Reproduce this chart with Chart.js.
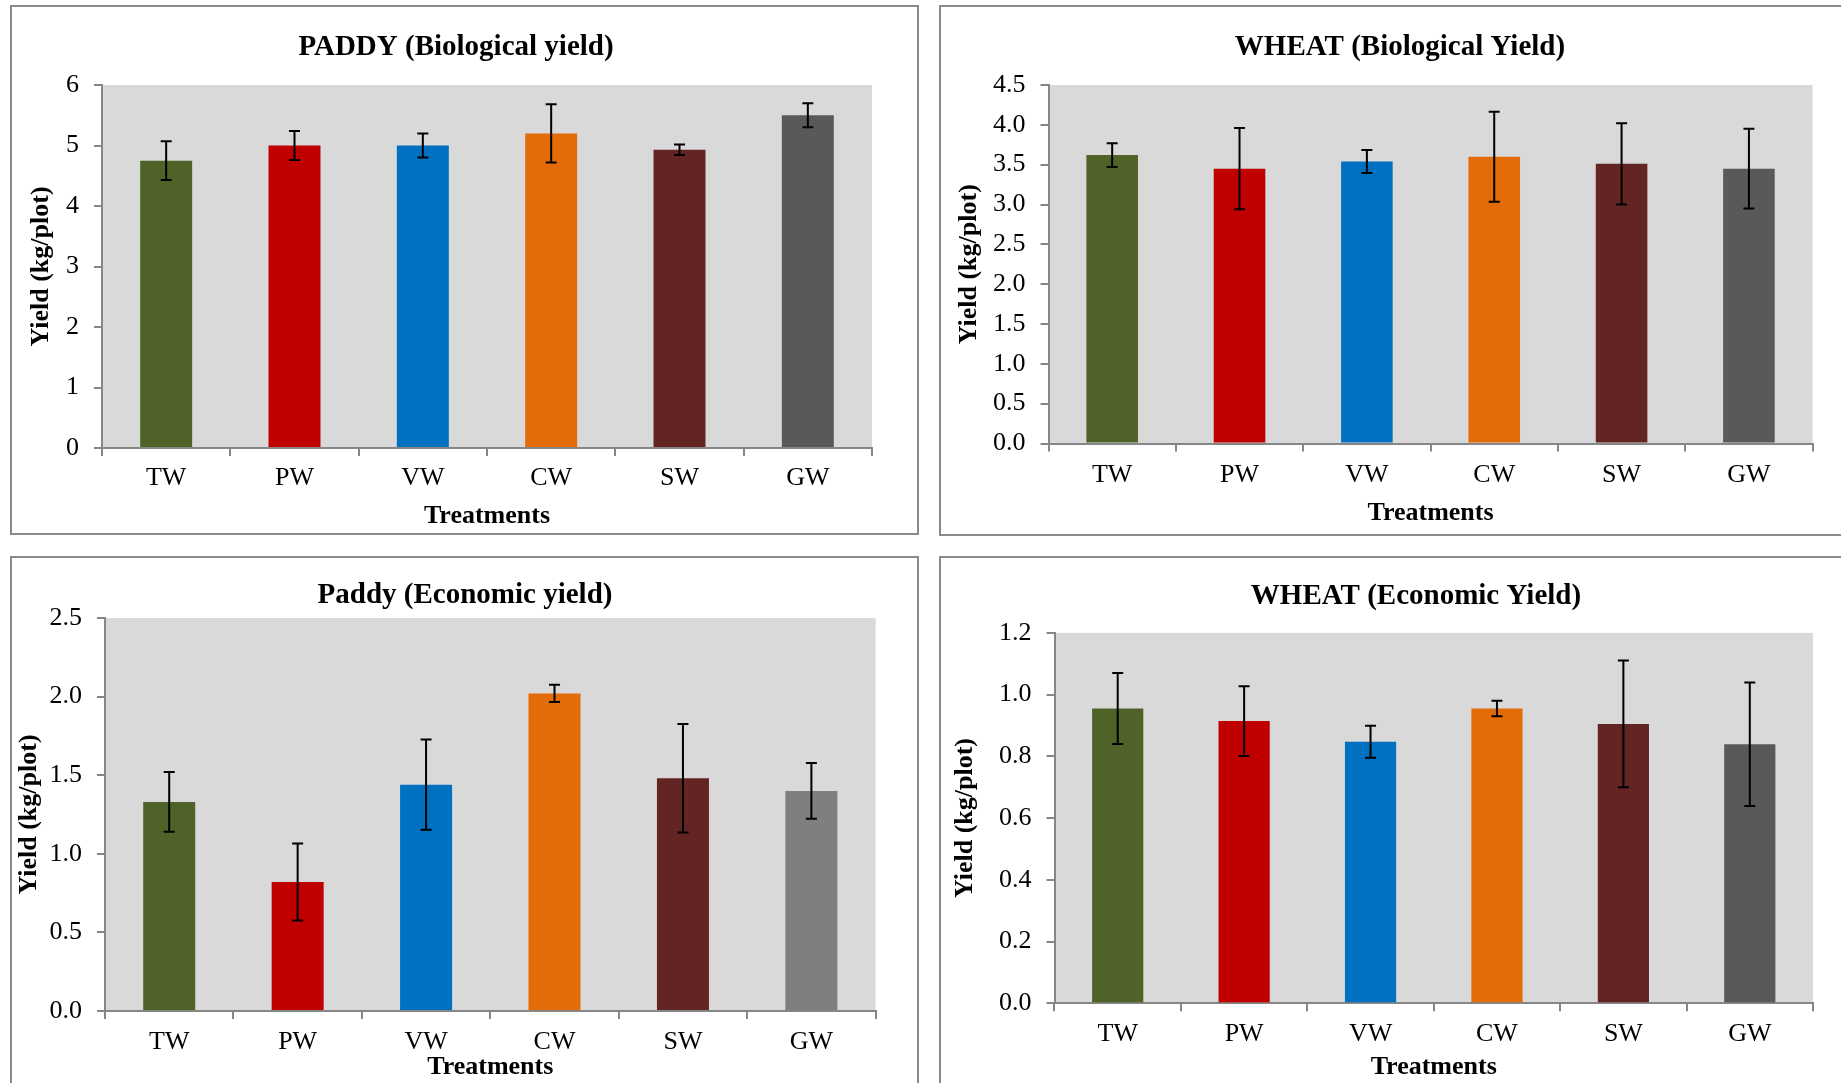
<!DOCTYPE html>
<html>
<head>
<meta charset="utf-8">
<title>Yield of paddy and wheat</title>
<script src="https://cdn.jsdelivr.net/npm/chart.js@4.4.1/dist/chart.umd.min.js"></script>
<style>
    html, body { margin: 0; padding: 0; background: #fff; overflow: hidden; }
    body { width: 1841px; height: 1083px; position: relative; }
    .panel { position: absolute; box-sizing: border-box; border: 2px solid #8a8a8a; background: #fff; }
    canvas { position: absolute; }
</style>
</head>
<body>
<div class="panel" style="left:10px; top:5px; width:909px; height:530px;"></div>
<div class="panel" style="left:939px; top:5px; width:909px; height:531px;"></div>
<div class="panel" style="left:10px; top:556px; width:909px; height:600px;"></div>
<div class="panel" style="left:939px; top:556px; width:909px; height:600px;"></div>

<canvas id="paddyBio" width="905" height="526" style="left:12px; top:7px;"></canvas>
<canvas id="wheatBio" width="905" height="527" style="left:941px; top:7px;"></canvas>
<canvas id="paddyEco" width="905" height="525" style="left:12px; top:558px;"></canvas>
<canvas id="wheatEco" width="905" height="525" style="left:941px; top:558px;"></canvas>

<script>
const treatments = ['TW', 'PW', 'VW', 'CW', 'SW', 'GW'];

const paddyBioYield = [4.75, 5.0, 5.0, 5.2, 4.93, 5.5];
const paddyBioError = [0.32, 0.24, 0.2, 0.48, 0.085, 0.2];
const paddyBioTicks = ['0', '1', '2', '3', '4', '5', '6'];

const wheatBioYield = [3.62, 3.45, 3.54, 3.60, 3.51, 3.45];
const wheatBioError = [0.15, 0.51, 0.145, 0.565, 0.51, 0.5];
const wheatBioTicks = ['0.0', '0.5', '1.0', '1.5', '2.0', '2.5', '3.0', '3.5', '4.0', '4.5'];

const paddyEcoYield = [1.33, 0.82, 1.44, 2.02, 1.48, 1.40];
const paddyEcoError = [0.19, 0.245, 0.287, 0.055, 0.345, 0.177];
const paddyEcoTicks = ['0.0', '0.5', '1.0', '1.5', '2.0', '2.5'];

const wheatEcoYield = [0.955, 0.914, 0.847, 0.955, 0.905, 0.839];
const wheatEcoError = [0.115, 0.113, 0.052, 0.025, 0.205, 0.2];
const wheatEcoTicks = ['0.0', '0.2', '0.4', '0.6', '0.8', '1.0', '1.2'];

const barColors = ['#4F6228', '#C00000', '#0070C0', '#E36C09', '#632523', '#595959'];
const barColorsEco = ['#4F6228', '#C00000', '#0070C0', '#E36C09', '#632523', '#7F7F7F'];

const serif = "'Liberation Serif', 'Times New Roman', serif";
const axisGray = '#868686';

Chart.defaults.font.family = serif;
Chart.defaults.color = '#000';

// grey plot background, error bars and the panel title
const panelDecor = {
    id: 'panelDecor',
    beforeDraw(chart) {
        const area = chart.chartArea;
        const c = chart.ctx;
        c.save();
        c.fillStyle = '#D9D9D9';
        c.fillRect(area.left, area.top, area.right - area.left, area.bottom - area.top);
        c.restore();
    },
    afterDatasetsDraw(chart, args, opts) {
        const c = chart.ctx;
        const yScale = chart.scales.y;
        const meta = chart.getDatasetMeta(0);
        const values = chart.data.datasets[0].data;
        c.save();
        c.strokeStyle = '#000';
        c.lineWidth = 2;
        meta.data.forEach((bar, i) => {
            const err = opts.errors[i];
            const yTop = yScale.getPixelForValue(values[i] + err);
            const yBottom = yScale.getPixelForValue(values[i] - err);
            c.beginPath();
            c.moveTo(bar.x, yTop);
            c.lineTo(bar.x, yBottom);
            c.moveTo(bar.x - 5.5, yTop);
            c.lineTo(bar.x + 5.5, yTop);
            c.moveTo(bar.x - 5.5, yBottom);
            c.lineTo(bar.x + 5.5, yBottom);
            c.stroke();
        });
        c.restore();
    },
    afterDraw(chart, args, opts) {
        const c = chart.ctx;
        c.save();
        c.font = 'bold 29px ' + serif;
        c.fillStyle = '#000';
        c.textAlign = 'center';
        c.textBaseline = 'middle';
        c.fillText(opts.title, opts.titleX, opts.titleY);
        c.restore();
    }
};

function renderYieldChart(canvasId, title, values, errors, tickLabels, colors, box) {
    const ctx = document.getElementById(canvasId).getContext('2d');

    new Chart(ctx, {
        type: 'bar',
        data: {
            labels: treatments,
            datasets: [{
                data: values,
                backgroundColor: colors,
                borderWidth: 0,
                barPercentage: 0.405,
                categoryPercentage: 1
            }]
        },
        plugins: [panelDecor],
        options: {
            responsive: false,
            animation: false,
            layout: {
                padding: { top: box.top, right: box.right, left: 0, bottom: 0 }
            },
            plugins: {
                legend: { display: false },
                tooltip: { enabled: false },
                panelDecor: {
                    title: title,
                    titleX: box.titleX,
                    titleY: box.titleY,
                    errors: errors
                }
            },
            scales: {
                x: {
                    offset: true,
                    grid: {
                        offset: true,
                        drawOnChartArea: false,
                        drawTicks: true,
                        tickLength: 8,
                        color: axisGray,
                        lineWidth: 2
                    },
                    border: { display: true, color: axisGray, width: 2 },
                    ticks: {
                        color: '#000',
                        font: { size: 26 },
                        padding: box.xTickPad,
                        maxRotation: 0
                    },
                    title: {
                        display: true,
                        text: 'Treatments',
                        color: '#000',
                        font: { size: 26, weight: 'bold' },
                        padding: { top: 0, bottom: box.xTitlePad }
                    },
                    afterFit: scale => { scale.height = box.xHeight; }
                },
                y: {
                    min: 0,
                    max: parseFloat(tickLabels[tickLabels.length - 1]),
                    grid: {
                        drawOnChartArea: false,
                        drawTicks: true,
                        tickLength: 8,
                        color: axisGray,
                        lineWidth: 2
                    },
                    border: { display: true, color: axisGray, width: 2 },
                    afterBuildTicks: scale => {
                        scale.ticks = tickLabels.map(t => ({ value: parseFloat(t) }));
                    },
                    ticks: {
                        color: '#000',
                        font: { size: 26 },
                        padding: 15,
                        callback: (value, index) => tickLabels[index]
                    },
                    title: {
                        display: true,
                        text: 'Yield (kg/plot)',
                        color: '#000',
                        font: { size: 26, weight: 'bold' },
                        padding: { top: box.yTitlePad, bottom: 0 }
                    },
                    afterFit: scale => { scale.width = box.yWidth; }
                }
            }
        }
    });
}

document.addEventListener('DOMContentLoaded', function() {
    renderYieldChart('paddyBio', 'PADDY (Biological yield)', paddyBioYield, paddyBioError, paddyBioTicks, barColors,
        { top: 78, right: 45, yWidth: 90, xHeight: 85, titleX: 444, titleY: 40.5, yTitlePad: 13.7, xTickPad: 7, xTitlePad: 1 });
    renderYieldChart('wheatBio', 'WHEAT (Biological Yield)', wheatBioYield, wheatBioError, wheatBioTicks, barColors,
        { top: 78, right: 33.4, yWidth: 107.5, xHeight: 90.5, titleX: 459, titleY: 41, yTitlePad: 12.3, xTickPad: 8, xTitlePad: 5.4 });
    renderYieldChart('paddyEco', 'Paddy (Economic yield)', paddyEcoYield, paddyEcoError, paddyEcoTicks, barColorsEco,
        { top: 60, right: 41.4, yWidth: 93, xHeight: 72, titleX: 453, titleY: 37.4, yTitlePad: 1.7, xTickPad: 7.4, xTitlePad: 0 });
    renderYieldChart('wheatEco', 'WHEAT (Economic Yield)', wheatEcoYield, wheatEcoError, wheatEcoTicks, barColors,
        { top: 74.8, right: 33, yWidth: 113.5, xHeight: 79.7, titleX: 475, titleY: 39, yTitlePad: 8.7, xTickPad: 7.6, xTitlePad: 0 });
});
</script>
</body>
</html>
